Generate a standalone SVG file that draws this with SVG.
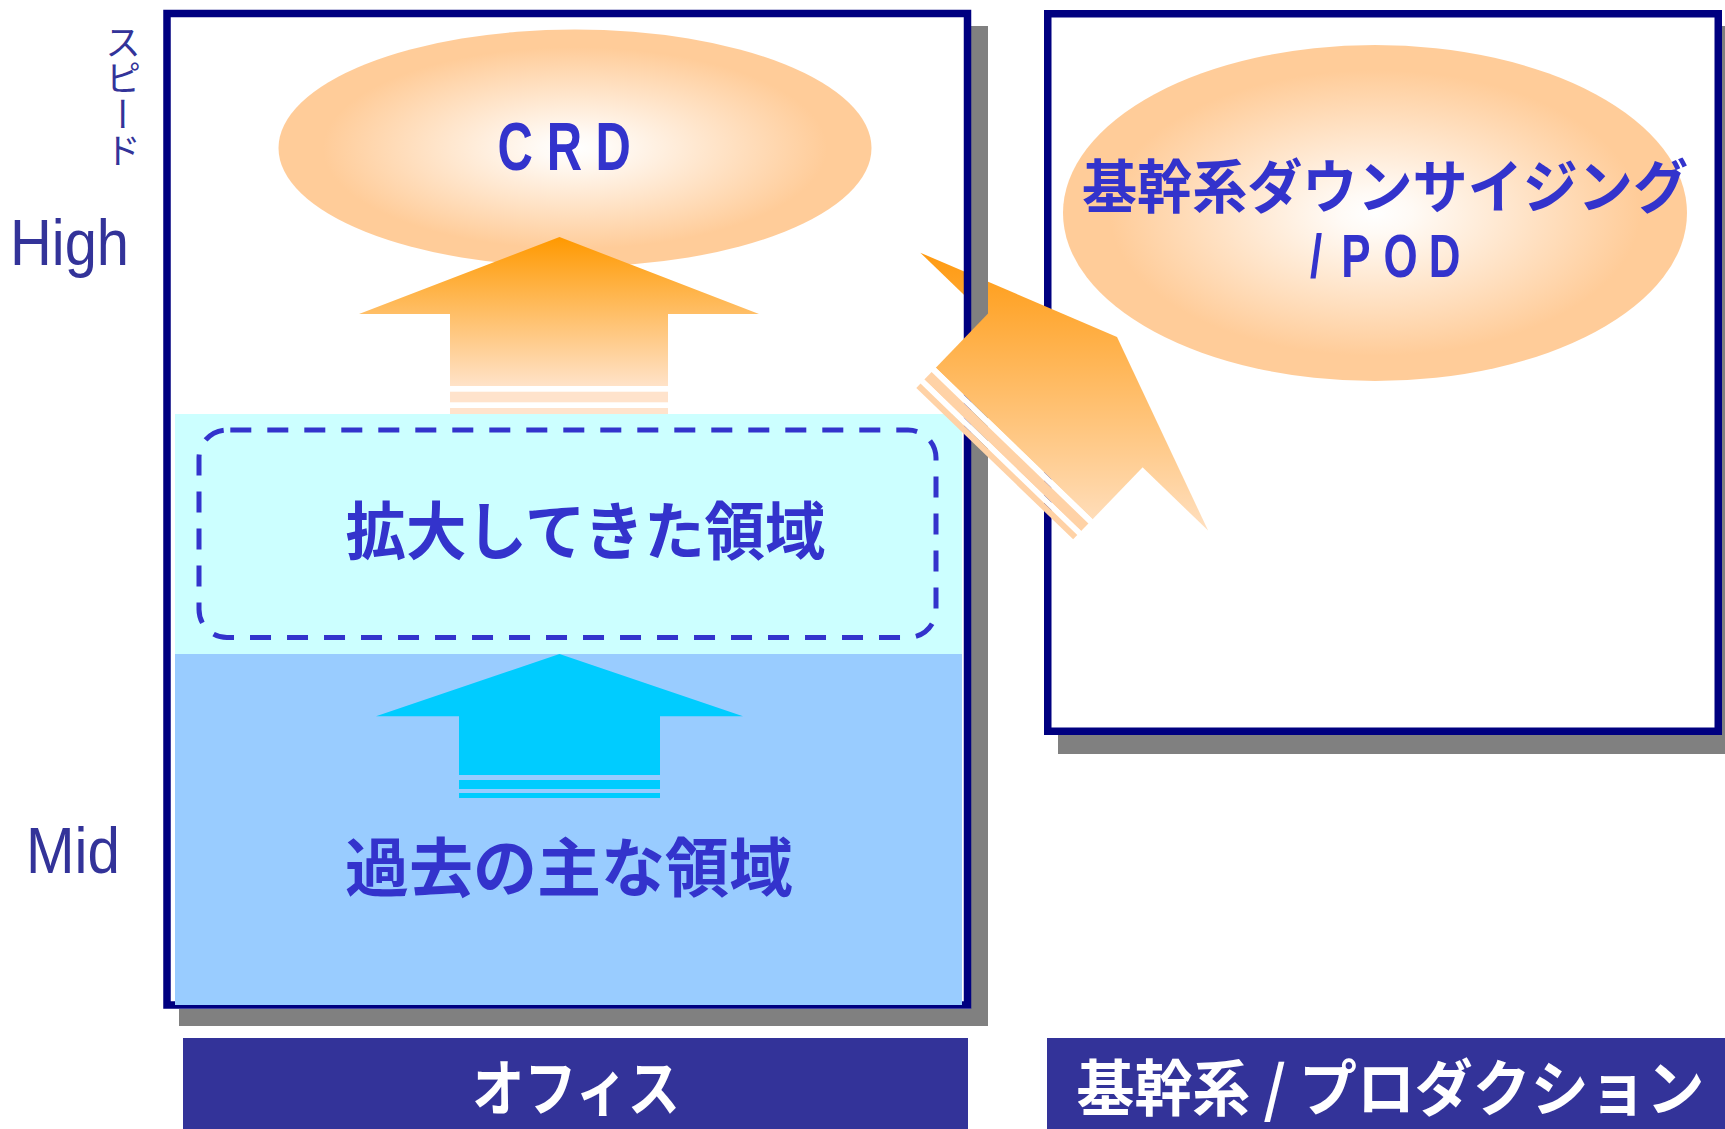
<svg xmlns="http://www.w3.org/2000/svg" width="1725" height="1129" viewBox="0 0 1725 1129">
<defs>
<radialGradient id="ellGrad" cx="0.5" cy="0.5" r="0.5">
<stop offset="0" stop-color="#FFFFFF"/>
<stop offset="0.12" stop-color="#FFFAF5"/>
<stop offset="0.85" stop-color="#FFCC99"/>
<stop offset="1" stop-color="#FFCC99"/>
</radialGradient>
<linearGradient id="upGrad" x1="0" y1="237" x2="0" y2="386" gradientUnits="userSpaceOnUse">
<stop offset="0" stop-color="#FF9900"/>
<stop offset="1" stop-color="#FFE2C8"/>
</linearGradient>
<linearGradient id="diagGrad" x1="0" y1="253" x2="0" y2="540" gradientUnits="userSpaceOnUse">
<stop offset="0" stop-color="#FF9A10"/>
<stop offset="1" stop-color="#FFE2C6"/>
</linearGradient>
</defs>
<style>
.jp{font-family:'Noto Sans CJK JP',sans-serif;font-weight:700}
.lat{font-family:'Liberation Sans',Arial,sans-serif}
.tblue{fill:#3333CC}
.tlab{fill:#333399}
.shadow{fill:#808080}
.frame{fill:none;stroke:#000080;stroke-width:7.5}
.bar{fill:#333399}
.dstripe{fill:#FFD2A6}
.wband{fill:#FFFFFF}
</style>

<!-- Right panel -->
<g id="right-panel">
<rect class="shadow" x="1058" y="26" width="680" height="728"/>
<rect x="1047.75" y="13.75" width="670.5" height="717.5" fill="#FFFFFF" stroke="#000080" stroke-width="7.5"/>
</g>
<g id="node-downsizing">
<ellipse cx="1375" cy="213" rx="312" ry="168" fill="url(#ellGrad)"/>
<text class="jp tblue" x="1385" y="208" font-size="58" text-anchor="middle" textLength="606" lengthAdjust="spacingAndGlyphs">基幹系ダウンサイジング</text>
<g transform="translate(0,277) scale(0.72,1)">
<text class="lat tblue" font-weight="bold" font-size="61" text-anchor="middle" x="1827.8 1883.3 1945.1 2006.3" y="0">/POD</text>
</g>
</g>

<!-- diagonal arrow head (under left frame) -->
<g id="connectors">
<polygon points="920.3,252.7 1117,337 1208.1,530.6" fill="url(#diagGrad)"/>
</g>

<!-- Left panel frame -->
<g id="left-panel">
<rect class="shadow" x="971" y="26" width="17" height="1000"/>
<rect class="shadow" x="179" y="1009" width="809" height="17"/>
<rect class="frame" x="167" y="13.5" width="800.5" height="991.5"/>
</g>

<g id="node-crd">
<ellipse cx="575" cy="148" rx="296.5" ry="118.5" fill="url(#ellGrad)"/>
<g transform="translate(0,170) scale(0.72,1)">
<text class="lat tblue" font-weight="bold" font-size="68" text-anchor="middle" x="715.6 784.0 851.8" y="0">CRD</text>
</g>
</g>

<g id="arrow-up-orange">
<polygon points="559.5,237 759,314 668,314 668,386 450,386 450,314 359,314" fill="url(#upGrad)"/>
<rect x="450" y="391.7" width="218" height="10.6" fill="#FFE3CC"/>
<rect x="450" y="408" width="218" height="6" fill="#FFE3CC"/>
</g>

<g id="node-expanded">
<rect x="175" y="414" width="787" height="240" fill="#CCFFFF"/>
<rect x="199" y="430" width="737" height="207.5" rx="28" ry="28" fill="none" stroke="#3333CC" stroke-width="5" stroke-dasharray="21 16" stroke-dashoffset="33.7"/>
<text class="jp tblue" x="585.5" y="554" font-size="63" text-anchor="middle" textLength="480" lengthAdjust="spacingAndGlyphs">拡大してきた領域</text>
</g>

<g id="node-past">
<rect x="175" y="654" width="787" height="351" fill="#99CCFF"/>
<text class="jp tblue" x="569" y="891" font-size="64" text-anchor="middle">過去の主な領域</text>
</g>

<g id="arrow-up-cyan">
<polygon points="559.5,654 743,716.3 660,716.3 660,775 459,775 459,716.3 376,716.3" fill="#00CCFF"/>
<rect x="459" y="780" width="201" height="9" fill="#00CCFF"/>
<rect x="459" y="793" width="201" height="5" fill="#00CCFF"/>
</g>

<!-- diagonal arrow shaft (over left frame) -->
<g id="arrow-diagonal">
<polygon points="990.0,311.6 1146.8,463.1 1092.6,519.2 935.8,367.7" fill="url(#diagGrad)"/>
<polygon class="wband" points="935.78,367.74 1092.58,519.18 1088.42,523.49 931.62,372.05"/>
<polygon class="dstripe" points="931.62,372.05 1088.42,523.49 1081.12,531.04 924.32,379.60"/>
<polygon class="wband" points="924.32,379.60 1081.12,531.04 1077.30,535.00 920.50,383.56"/>
<polygon class="dstripe" points="920.50,383.56 1077.30,535.00 1073.13,539.32 916.33,387.88"/>
</g>

<g id="axis-labels">
<text class="lat tlab" x="10" y="265" font-size="64" textLength="119" lengthAdjust="spacingAndGlyphs">High</text>
<text class="lat tlab" x="26" y="873" font-size="64" textLength="94" lengthAdjust="spacingAndGlyphs">Mid</text>
<text class="tlab" x="123" y="24" font-size="36" style="writing-mode:vertical-rl;font-family:'Noto Sans CJK JP',sans-serif">スピード</text>
</g>

<g id="label-office">
<rect class="bar" x="183" y="1038" width="785" height="91"/>
<text class="jp" fill="#FFFFFF" x="576" y="1111" font-size="61" text-anchor="middle" textLength="208" lengthAdjust="spacingAndGlyphs">オフィス</text>
</g>
<g id="label-production">
<rect class="bar" x="1047" y="1038" width="678" height="91"/>
<text class="jp" fill="#FFFFFF" x="1390.5" y="1111" font-size="61" text-anchor="middle" textLength="628" lengthAdjust="spacingAndGlyphs">基幹系 / プロダクション</text>
</g>
</svg>
